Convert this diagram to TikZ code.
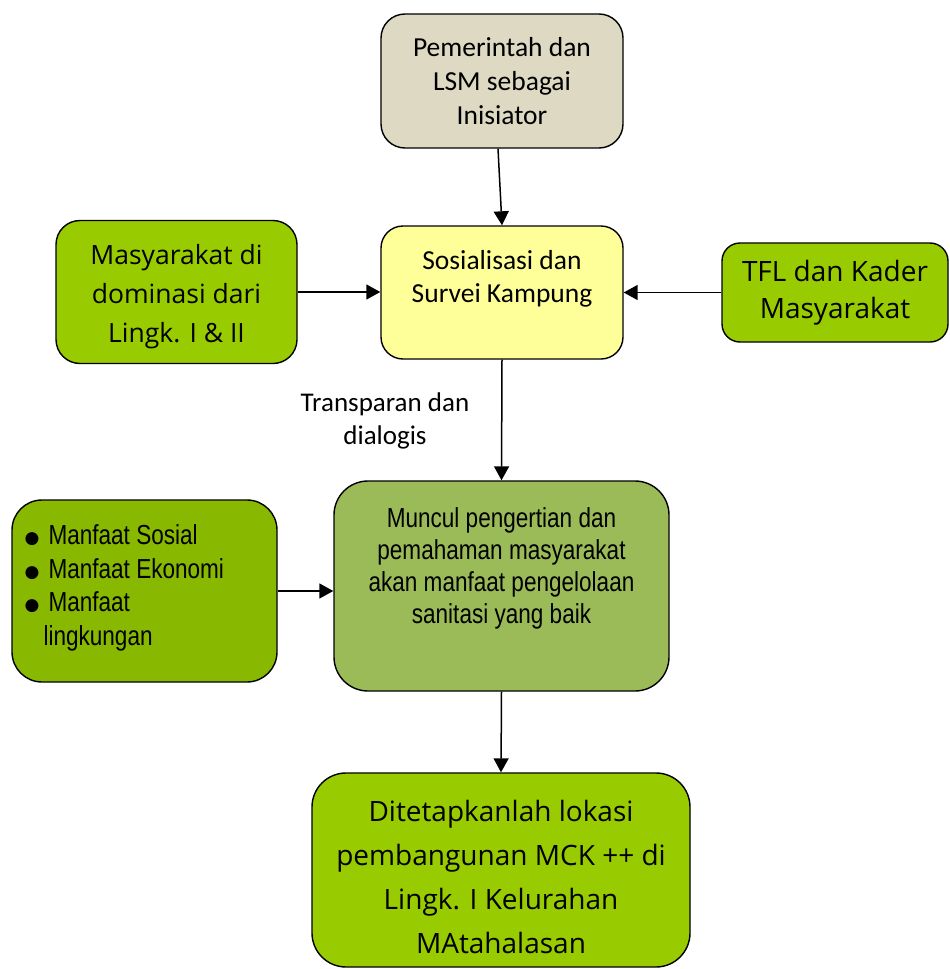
\documentclass[tikz,border=0pt]{standalone}
\usepackage{fontspec}
\setmainfont{Carlito}
\newfontfamily\comicf{Open Sans}
\newfontfamily\narrowf[FakeStretch=0.82]{Liberation Sans}
\newfontfamily\dejavuf{DejaVu Sans}
\usetikzlibrary{arrows.meta}
\definecolor{beigebox}{HTML}{DDD9C3}
\definecolor{yellowbox}{HTML}{FFFF99}
\definecolor{limebox}{HTML}{99CC00}
\definecolor{olivebox}{HTML}{9BBB59}
\definecolor{darklime}{HTML}{88B800}
\newcommand{\bigbul}{\makebox[24pt][l]{\raisebox{1pt}{\dejavuf\fontsize{17}{17}\selectfont ●}}}
\tikzset{
  box/.style={draw=black, line width=1.4pt, inner sep=0pt, align=center},
  conn/.style={line width=1.5pt, -{Triangle[length=14pt,width=15pt]}},
  calf/.style={font=\fontsize{27.5}{34}\selectfont},
  comf/.style={font=\comicf\fontsize{26.5}{39}\selectfont},
  narf/.style={font=\narrowf\fontsize{27.5}{32}\selectfont},
}
\begin{document}
\begin{tikzpicture}[x=1pt,y=-1pt]
\useasboundingbox (0,0) rectangle (950,969);
% boxes
\node[box, fill=beigebox, rounded corners=24pt, minimum width=242pt, minimum height=134pt, calf] (ini) at (502,81) {Pemerintah dan\\LSM sebagai\\Inisiator};
\node[box, fill=yellowbox, rounded corners=22pt, minimum width=242pt, minimum height=133pt] (sos) at (502,292.5) {};
\node[calf, font=\fontsize{27.5}{33}\selectfont, align=center] (sostext) at (502,279) {Sosialisasi dan\\Survei Kampung};
\node[box, fill=limebox, rounded corners=24pt, minimum width=241pt, minimum height=143pt] (mas) at (176.5,292) {};
\node[comf, align=center] (mastext) at (176.5,297) {Masyarakat di\\dominasi dari\\Lingk. I \& II};
\node[box, fill=limebox, rounded corners=18pt, minimum width=226pt, minimum height=99pt, font=\comicf\fontsize{28}{37}\selectfont] (tfl) at (835,292.5) {TFL dan Kader\\Masyarakat};
\node[calf, font=\fontsize{27}{33}\selectfont, align=center] (trans) at (385,421) {Transparan dan\\dialogis};
\node[box, fill=olivebox, rounded corners=34pt, minimum width=335pt, minimum height=210pt] (mun) at (501.5,586) {};
\node[narf, align=center] (muntext) at (501.5,568) {Muncul pengertian dan\\pemahaman masyarakat\\akan manfaat pengelolaan\\sanitasi yang baik};
\node[box, fill=darklime, rounded corners=30pt, minimum width=265pt, minimum height=182pt] (manf) at (144.5,591) {};
\node[align=left, anchor=west, font=\narrowf\fontsize{27.5}{33.5}\selectfont] (manftext) at (21,588) {\bigbul Manfaat Sosial\\\bigbul Manfaat Ekonomi\\\bigbul Manfaat\\\hspace*{19pt}lingkungan};
\node[box, fill=limebox, rounded corners=34pt, minimum width=378pt, minimum height=194pt] (fin) at (501,870) {};
\node[align=center, font=\comicf\fontsize{28}{44}\selectfont] (fintext) at (501,877) {Ditetapkanlah lokasi\\pembangunan MCK ++ di\\Lingk. I Kelurahan\\MAtahalasan};
% connectors
\draw[conn] ([xshift=-4pt]ini.south) -- (sos.north);
\draw[conn] (mas.east) -- (mas.east -| sos.west);
\draw[conn] (tfl.west) -- (tfl.west -| sos.east);
\draw[conn] (sos.south) -- (mun.north);
\draw[conn] (manf.east) -- (manf.east -| mun.west);
\draw[conn] (mun.south) -- (fin.north);
\end{tikzpicture}
\end{document}
